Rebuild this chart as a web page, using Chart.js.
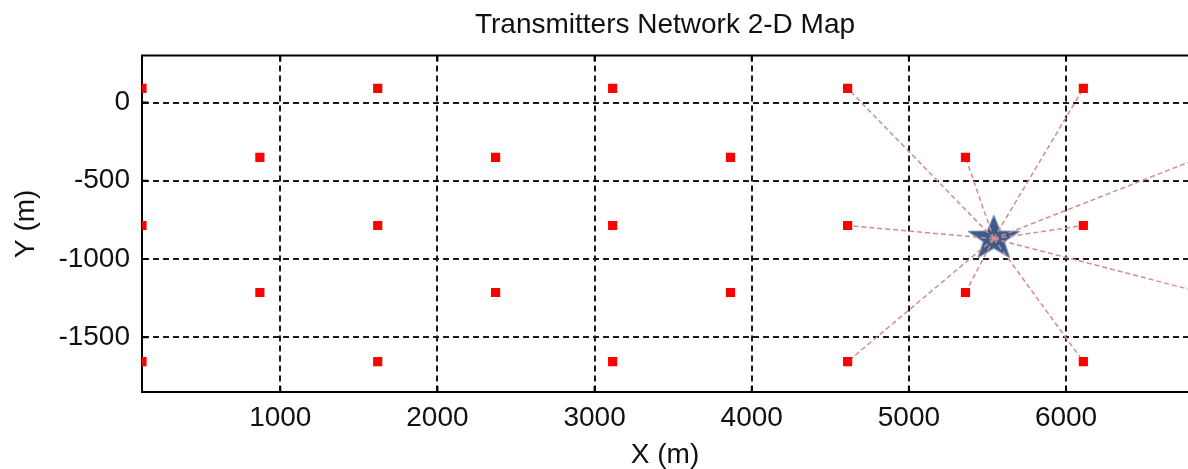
<!DOCTYPE html>
<html><head><meta charset="utf-8">
<script src="https://cdn.jsdelivr.net/npm/chart.js@4.4.1/dist/chart.umd.min.js"></script>
<style>
html,body{margin:0;padding:0;overflow:hidden;background:#fff;}
#c{display:block;}
</style></head><body>
<canvas id="c" width="1188" height="469"></canvas>
<script>
// Transmitter positions (m)
const txX = [120,120,120, 870,870, 1620,1620,1620, 2370,2370, 3115,3115,3115, 3865,3865, 4610,4610,4610, 5360,5360, 6110,6110,6110];
const txY = [90,-786,-1656, -350,-1214, 90,-786,-1656, -350,-1214, 90,-786,-1656, -350,-1214, 90,-786,-1656, -350,-1214, 90,-786,-1656];
// Link targets from the receiver (star)
const linkX = [4610, 5360, 6110, 4610, 6110, 4610, 5360, 6110, 6860, 6860];
const linkY = [90, -350, 90, -786, -786, -1656, -1214, -1656, -350, -1214];
// Receiver
const starX = [5540];
const starY = [-870];
// Ticks
const xTicks = [1000, 2000, 3000, 4000, 5000, 6000];
const yTicks = [0, -500, -1000, -1500];

const FONT = "'Liberation Sans', Arial, sans-serif";
const TXT = '#111';

function makeStar(){
  const c = document.createElement('canvas'); c.width = 60; c.height = 52;
  const g = c.getContext('2d');
  const cx = 30, cy = 26, R = 23.5, r = 9.6, sx = 1.15;
  g.beginPath();
  for (let i = 0; i < 10; i++) {
    const ang = -Math.PI/2 + i*Math.PI/5;
    const rad = (i % 2) ? r : R;
    const px = cx + Math.cos(ang)*rad*sx, py = cy + Math.sin(ang)*rad;
    if (i) g.lineTo(px, py); else g.moveTo(px, py);
  }
  g.closePath();
  g.fillStyle = '#3b5b8b'; g.fill();
  g.strokeStyle = '#6f88ad'; g.lineWidth = 1; g.stroke();
  return c;
}
const starImg = makeStar();

const datasets = [];
datasets.push({
  label: 'Transmitters',
  data: txX.map((x, i) => ({x, y: txY[i]})),
  pointStyle: 'rect', pointRadius: 6.5, pointBackgroundColor: '#ff0000', pointBorderWidth: 0, showLine: false
});
linkX.forEach((x, i) => {
  datasets.push({
    label: 'link' + i,
    data: [{x: starX[0], y: starY[0]}, {x, y: linkY[i]}],
    showLine: true, borderColor: '#d58c8c', borderWidth: 1.5, borderDash: [5, 3], pointRadius: 0
  });
});
datasets.push({
  label: 'Receiver',
  data: [{x: starX[0], y: starY[0]}],
  pointStyle: starImg, pointRadius: 20, showLine: false
});

const frame = {
  id: 'frame',
  afterDraw(chart) {
    const {ctx, chartArea: a, scales: {x, y}} = chart;
    ctx.save();
    ctx.strokeStyle = '#000'; ctx.lineWidth = 2;
    ctx.beginPath(); ctx.moveTo(a.left - 1, a.top); ctx.lineTo(a.right + 20, a.top); ctx.stroke();
    ctx.beginPath();
    x.ticks.forEach(t => { const px = x.getPixelForValue(t.value);
      ctx.moveTo(px, a.bottom); ctx.lineTo(px, a.bottom - 6);
      ctx.moveTo(px, a.top); ctx.lineTo(px, a.top + 6); });
    y.ticks.forEach(t => { const py = y.getPixelForValue(t.value);
      ctx.moveTo(a.left, py); ctx.lineTo(a.left + 6, py); });
    ctx.stroke();
    ctx.restore();
  }
};

new Chart(document.getElementById('c'), {
  type: 'scatter',
  data: { datasets },
  options: {
    responsive: false, animation: false, events: [],
    layout: { autoPadding: false, padding: { left: 0, right: 0, top: 0, bottom: 0 } },
    plugins: {
      legend: { display: false },
      tooltip: { enabled: false },
      title: { display: true, text: 'Transmitters Network 2-D Map', fullSize: false, color: TXT,
        font: { family: FONT, size: 28, weight: 'normal', lineHeight: 1.2 }, padding: { top: 8, bottom: 14 } }
    },
    scales: {
      x: {
        type: 'linear', position: 'bottom', min: 120, max: 6776,
        afterBuildTicks: s => { s.ticks = xTicks.map(v => ({value: v})); },
        afterFit: s => { s.height = 77; s.paddingLeft = 0; s.paddingRight = 0; },
        ticks: { color: TXT, font: { family: FONT, size: 28 }, padding: 9, maxRotation: 0, autoSkip: false, callback: v => String(v) },
        grid: { color: '#1a1a1a', lineWidth: 2, drawTicks: false },
        border: { display: true, color: '#000', width: 2, dash: [6, 4] },
        title: { display: true, text: 'X (m)', color: TXT, font: { family: FONT, size: 28, lineHeight: 1 }, padding: { top: 0, bottom: 0 } }
      },
      y: {
        type: 'linear', position: 'left', min: -1850, max: 300,
        afterBuildTicks: s => { s.ticks = yTicks.map(v => ({value: v})); },
        afterFit: s => { s.width = 142; s.paddingTop = 0; s.paddingBottom = 0; },
        ticks: { color: TXT, font: { family: FONT, size: 28 }, padding: 12, autoSkip: false, callback: v => String(v) },
        grid: { color: '#1a1a1a', lineWidth: 2, drawTicks: false },
        border: { display: true, color: '#000', width: 2, dash: [6, 4] },
        title: { display: true, text: 'Y (m)', color: TXT, font: { family: FONT, size: 28, lineHeight: 1 }, padding: { top: 12, bottom: 0 } }
      }
    }
  },
  plugins: [frame]
});
</script>
</body></html>
